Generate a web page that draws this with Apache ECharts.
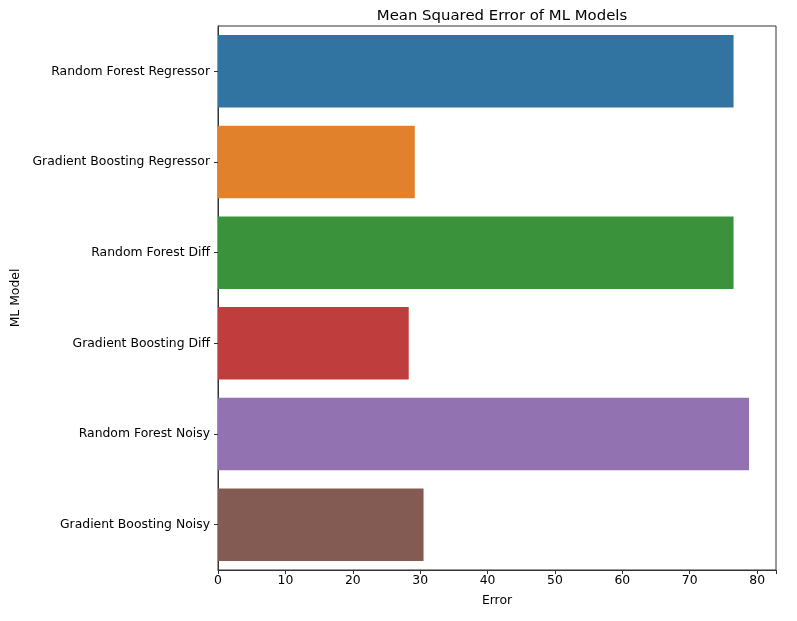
<!DOCTYPE html>
<html><head><meta charset="utf-8">
<script src="https://cdn.jsdelivr.net/npm/echarts@6/dist/echarts.min.js"></script>
<style>html,body{margin:0;padding:0;background:#fff}#c{width:797px;height:621px}</style>
</head><body><div id="c"></div>
<script>
const categories = ["Random Forest Regressor","Gradient Boosting Regressor","Random Forest Diff","Gradient Boosting Diff","Random Forest Noisy","Gradient Boosting Noisy"];
const values = [76.5, 29.2, 76.5, 28.3, 78.8, 30.5];
const colors = ["#3274a1","#e1812c","#3a923a","#c03d3e","#9372b2","#845b53"];
const xTicks = [0,10,20,30,40,50,60,70,80];

const chart = echarts.init(document.getElementById('c'), null, {renderer:'canvas'});
const font = 'DejaVu Sans';
chart.setOption({
  animation:false,
  title:{text:'Mean Squared Error of ML Models',left:497,top:4,textAlign:'center',
    textStyle:{fontFamily:font,fontSize:14.9,fontWeight:'normal',color:'#000'}},
  grid:{left:218,top:26,right:21,bottom:51,show:true,borderColor:'#333',borderWidth:1,backgroundColor:'#fff'},
  xAxis:{type:'value',min:0,max:82.8,interval:10,
    name:'Error',nameLocation:'middle',nameGap:25,
    nameTextStyle:{fontFamily:font,fontSize:12.4,color:'#000'},
    axisLine:{show:true,lineStyle:{color:'#333'}},
    axisTick:{show:true,length:4,lineStyle:{color:'#333'},inside:false},
    splitLine:{show:false},
    axisLabel:{fontFamily:font,fontSize:12.4,color:'#000',margin:5,
      formatter:v=>xTicks.includes(v)?String(v):''}},
  yAxis:{type:'category',data:categories,inverse:true,
    name:'ML Model',nameLocation:'middle',nameGap:195,
    nameTextStyle:{fontFamily:font,fontSize:12.4,color:'#000'},
    axisLine:{show:true,lineStyle:{color:'#333'}},
    axisTick:{show:true,alignWithLabel:true,length:4,lineStyle:{color:'#333'}},
    axisLabel:{fontFamily:font,fontSize:12.4,color:'#000',margin:8}},
  series:[{type:'bar',barWidth:'80%',
    data:values.map((v,i)=>({value:v,itemStyle:{color:colors[i]}}))}]
});
</script></body></html>
